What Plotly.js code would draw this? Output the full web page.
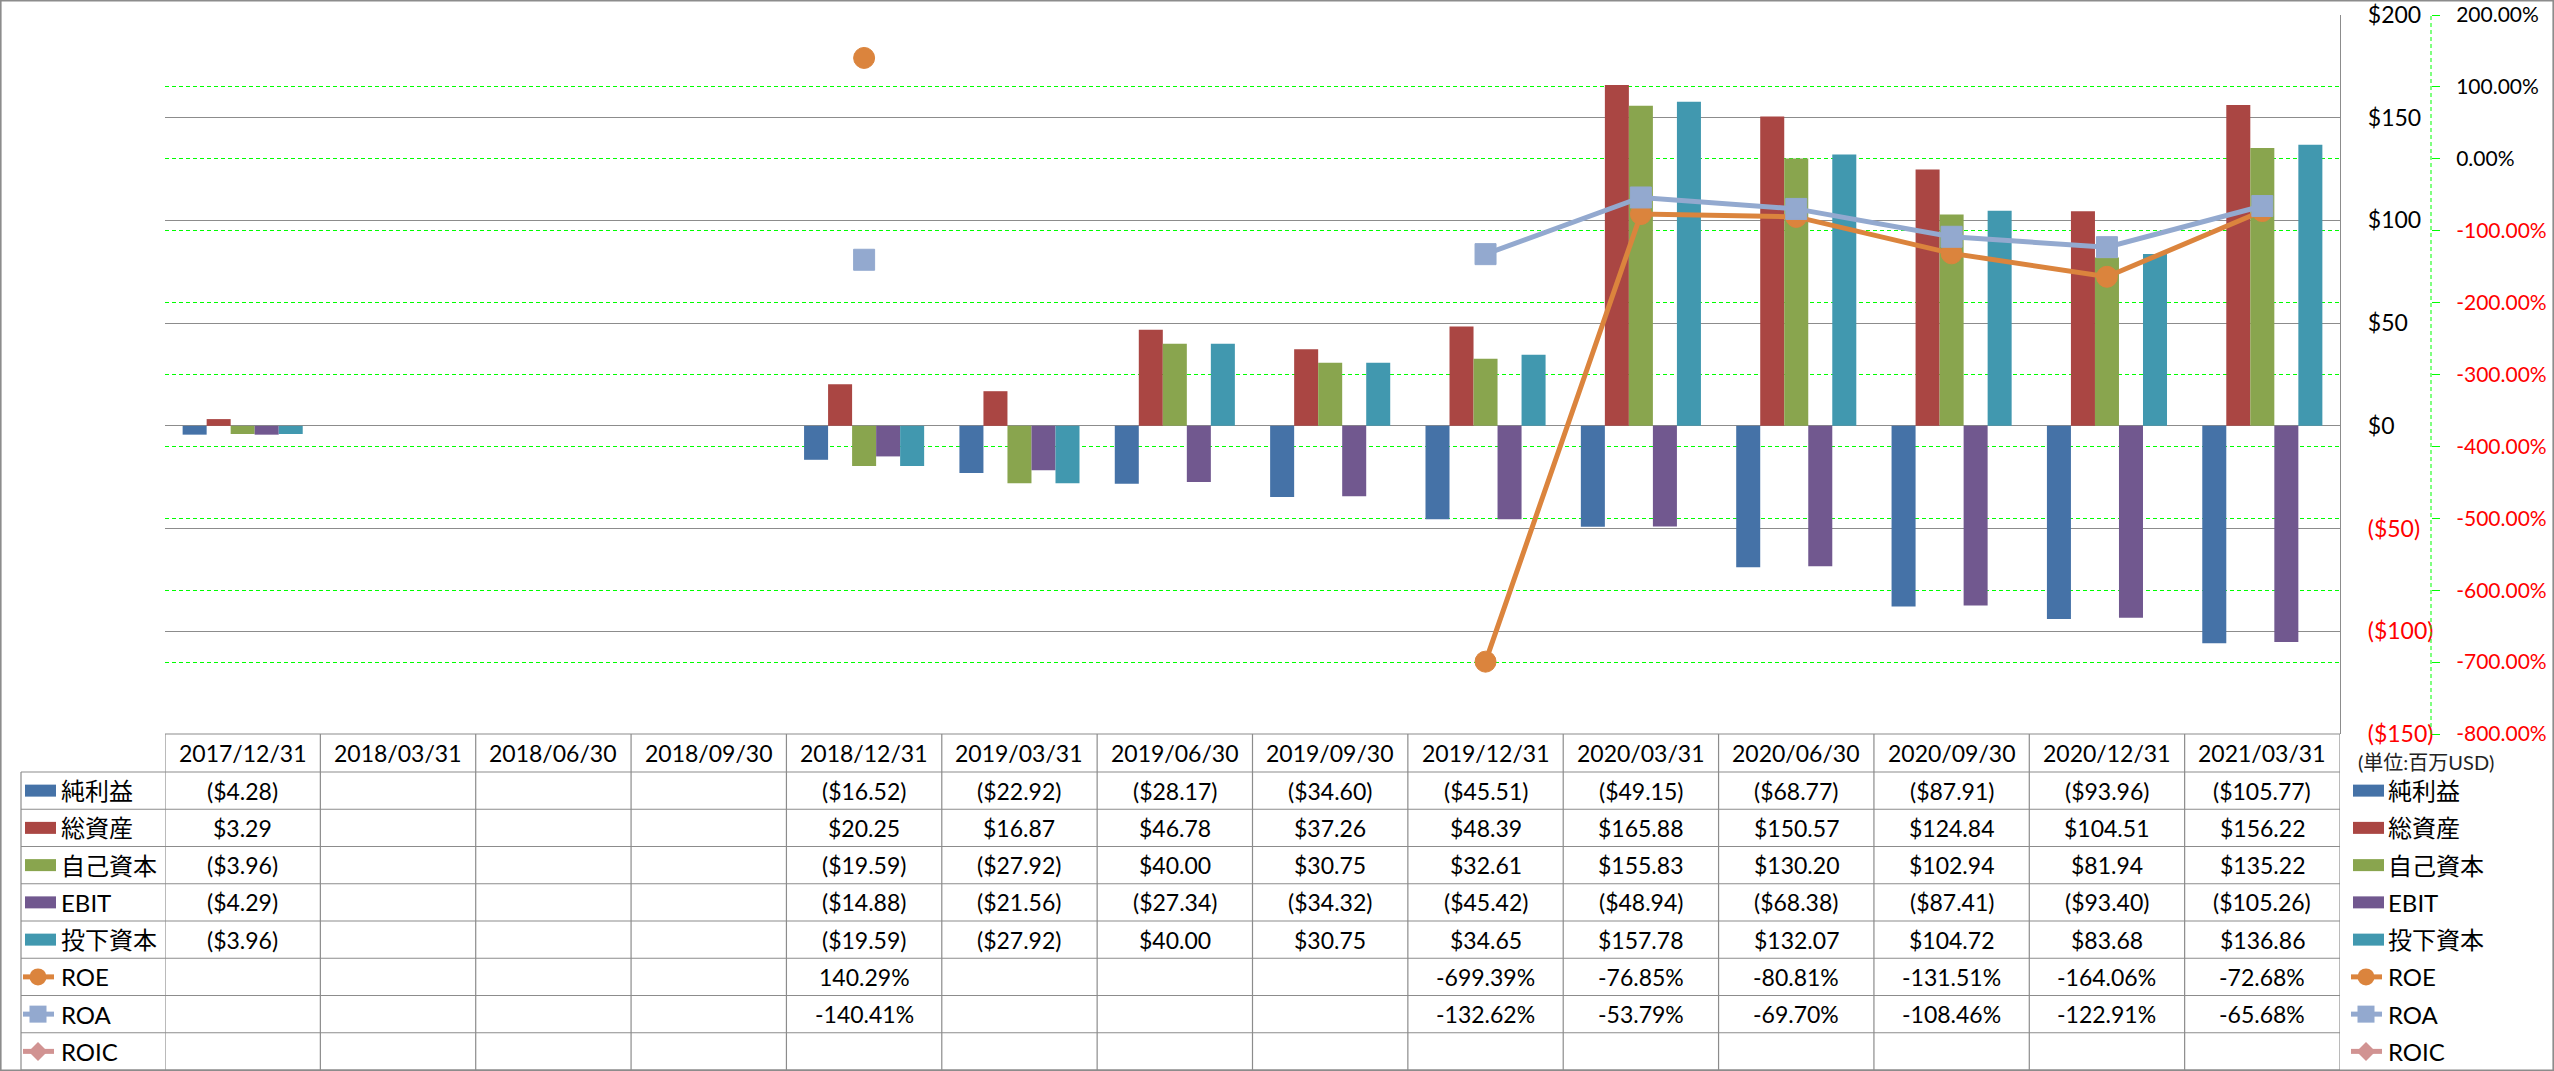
<!DOCTYPE html>
<html>
<head>
<meta charset="utf-8">
<script src="https://cdn.plot.ly/plotly-3.0.1.min.js"></script>
<style>
  html, body { margin: 0; padding: 0; background: #fff; }
  #chart { width: 2554px; height: 1071px; }
</style>
</head>
<body>
<div id="chart"></div>
<script>
// quarter ends (table header)
const dates = ['2017/12/31', '2018/03/31', '2018/06/30', '2018/09/30', '2018/12/31', '2019/03/31', '2019/06/30',
  '2019/09/30', '2019/12/31', '2020/03/31', '2020/06/30', '2020/09/30', '2020/12/31', '2021/03/31'];

// amounts in million USD
const netIncome = [-4.28, null, null, null, -16.52, -22.92, -28.17, -34.60, -45.51, -49.15, -68.77, -87.91, -93.96, -105.77];
const totalAssets = [3.29, null, null, null, 20.25, 16.87, 46.78, 37.26, 48.39, 165.88, 150.57, 124.84, 104.51, 156.22];
const equity = [-3.96, null, null, null, -19.59, -27.92, 40.00, 30.75, 32.61, 155.83, 130.20, 102.94, 81.94, 135.22];
const ebit = [-4.29, null, null, null, -14.88, -21.56, -27.34, -34.32, -45.42, -48.94, -68.38, -87.41, -93.40, -105.26];
const investedCapital = [-3.96, null, null, null, -19.59, -27.92, 40.00, 30.75, 34.65, 157.78, 132.07, 104.72, 83.68, 136.86];

// ratios in percent
const roe = [null, null, null, null, 140.29, null, null, null, -699.39, -76.85, -80.81, -131.51, -164.06, -72.68];
const roa = [null, null, null, null, -140.41, null, null, null, -132.62, -53.79, -69.70, -108.46, -122.91, -65.68];
const roic = [null, null, null, null, null, null, null, null, null, null, null, null, null, null];

const leftTicks = [200, 150, 100, 50, 0, -50, -100, -150];
const rightTicks = [200, 100, 0, -100, -200, -300, -400, -500, -600, -700, -800];

const W = 2554, H = 1071;
const px = x => x / W;
const py = y => 1 - y / H;

const RED = '#FF0000';
const GRID = '#8C8C8C';
const FONT = 'Lato, "Noto Sans CJK JP", sans-serif';

function money(v) {
  if (v === null) return '';
  return v < 0 ? '($' + Math.abs(v).toFixed(2) + ')' : '$' + v.toFixed(2);
}
function pct(v) {
  return v === null ? '' : v.toFixed(2) + '%';
}
function red(s, neg) {
  return neg ? '<span style="color:' + RED + '">' + s + '</span>' : s;
}

const series = [
  { name: '純利益', data: netIncome, color: '#4572A7', kind: 'bar' },
  { name: '総資産', data: totalAssets, color: '#AA4643', kind: 'bar' },
  { name: '自己資本', data: equity, color: '#89A54E', kind: 'bar' },
  { name: 'EBIT', data: ebit, color: '#71588F', kind: 'bar' },
  { name: '投下資本', data: investedCapital, color: '#4198AF', kind: 'bar' },
  { name: 'ROE', data: roe, color: '#DB843D', kind: 'line', symbol: 'circle' },
  { name: 'ROA', data: roa, color: '#93A9CF', kind: 'line', symbol: 'square' },
  { name: 'ROIC', data: roic, color: '#D19392', kind: 'line', symbol: 'diamond' },
];

const traces = series.map(s => {
  if (s.kind === 'bar') {
    return { type: 'bar', name: s.name, x: dates, y: s.data, marker: { color: s.color, line: { width: 0 } } };
  }
  return {
    type: 'scatter', mode: 'lines+markers', name: s.name, x: dates, y: s.data, yaxis: 'y2',
    connectgaps: false,
    line: { color: s.color, width: 5 },
    marker: { symbol: s.symbol, size: 21, color: s.color, line: { color: s.color, width: 1 } },
  };
});

// table geometry (pixels)
const tableTop = 734, headBottom = 772, rowH = 37.25, tableLeft = 21, tableRight = 2340;
const rowY = k => headBottom + rowH * (k + 0.5);

const shapes = [];
const annotations = [];

// outer frame
shapes.push({ type: 'rect', xref: 'paper', yref: 'paper', x0: px(0.8), x1: px(W - 0.8), y0: py(0.8), y1: py(H - 0.8),
  line: { color: '#8C8C8C', width: 1.6 } });

// secondary axis line (dashed)
shapes.push({ type: 'line', xref: 'paper', yref: 'y2', x0: px(2431), x1: px(2431), y0: -800, y1: 200,
  line: { color: '#00FF00', width: 1, dash: '4px,3px' } });

// table grid
shapes.push({ type: 'line', xref: 'paper', yref: 'paper', x0: px(165), x1: px(tableRight), y0: py(tableTop), y1: py(tableTop),
  line: { color: GRID, width: 1.2 } });
for (let k = 0; k <= series.length; k++) {
  const y = headBottom + rowH * k;
  shapes.push({ type: 'line', xref: 'paper', yref: 'paper', x0: px(tableLeft), x1: px(tableRight), y0: py(y), y1: py(y),
    line: { color: GRID, width: 1.2 } });
}
shapes.push({ type: 'line', xref: 'paper', yref: 'paper', x0: px(tableLeft), x1: px(tableLeft), y0: py(headBottom), y1: py(H),
  line: { color: GRID, width: 1.2 } });
for (let i = 0; i <= dates.length; i++) {
  shapes.push({ type: 'line', xref: 'x', yref: 'paper', x0: i - 0.5, x1: i - 0.5, y0: py(tableTop), y1: py(H),
    line: { color: GRID, width: 1.2 } });
}

// header and cells
dates.forEach(d => {
  annotations.push({ xref: 'x', yref: 'paper', x: d, y: py(753), text: d, showarrow: false,
    xanchor: 'center', yanchor: 'middle', font: { size: 23, color: '#000' } });
});
series.forEach((s, k) => {
  s.data.forEach((v, i) => {
    if (v === null) return;
    annotations.push({ xref: 'x', yref: 'paper', x: dates[i], y: py(rowY(k)), text: s.kind === 'bar' ? money(v) : pct(v),
      showarrow: false, xanchor: 'center', yanchor: 'middle', font: { size: 23, color: '#000' } });
  });
});

// legend keys (table column and right side)
function legendKey(s, k, a, textX) {
  const yc = rowY(k);
  if (s.kind === 'bar') {
    shapes.push({ type: 'rect', xref: 'paper', yref: 'paper', x0: px(a), x1: px(a + 31), y0: py(yc + 6), y1: py(yc - 6),
      fillcolor: s.color, line: { width: 0 } });
  } else {
    shapes.push({ type: 'line', xref: 'paper', yref: 'paper', x0: px(a - 2), x1: px(a + 29), y0: py(yc), y1: py(yc),
      line: { color: s.color, width: 5 } });
    const c = a + 13, r = 8.5;
    if (s.symbol === 'circle') {
      shapes.push({ type: 'circle', xref: 'paper', yref: 'paper', x0: px(c - r), x1: px(c + r), y0: py(yc + r), y1: py(yc - r),
        fillcolor: s.color, line: { width: 0 } });
    } else if (s.symbol === 'square') {
      shapes.push({ type: 'rect', xref: 'paper', yref: 'paper', x0: px(c - r), x1: px(c + r), y0: py(yc + r), y1: py(yc - r),
        fillcolor: s.color, line: { width: 0 } });
    } else {
      const p = 'M' + px(c) + ',' + py(yc - r - 1) + ' L' + px(c + r + 1) + ',' + py(yc) + ' L' + px(c) + ',' + py(yc + r + 1) +
        ' L' + px(c - r - 1) + ',' + py(yc) + ' Z';
      shapes.push({ type: 'path', xref: 'paper', yref: 'paper', path: p, fillcolor: s.color, line: { width: 0 } });
    }
  }
  annotations.push({ xref: 'paper', yref: 'paper', x: px(textX), y: py(yc), text: s.name, showarrow: false,
    xanchor: 'left', yanchor: 'middle', font: { size: 24, color: '#000' } });
}
series.forEach((s, k) => {
  legendKey(s, k, 25, 59);
  legendKey(s, k, 2353, 2386);
});

annotations.push({ xref: 'paper', yref: 'paper', x: px(2356), y: py(762), text: '(単位:百万USD)', showarrow: false,
  xanchor: 'left', yanchor: 'middle', font: { size: 20, color: '#222' } });

const layout = {
  width: W, height: H,
  margin: { l: 0, r: 0, t: 0, b: 0 },
  paper_bgcolor: '#fff', plot_bgcolor: '#fff',
  font: { family: FONT, color: '#000' },
  showlegend: false,
  barmode: 'group', bargap: 0.227, bargroupgap: 0,
  xaxis: {
    domain: [px(165), px(2340)], type: 'category', range: [-0.5, dates.length - 0.5],
    showticklabels: false, showgrid: false, zeroline: false, showline: false, ticks: '', fixedrange: true,
  },
  yaxis: {
    domain: [py(734), py(15)], range: [-150, 200], side: 'right',
    tickvals: leftTicks, ticktext: leftTicks.map(v => red(money(v).replace('.00', ''), v < 0)),
    showline: true, linecolor: GRID, linewidth: 1.2,
    showgrid: true, gridcolor: GRID, gridwidth: 1.2,
    zeroline: true, zerolinecolor: GRID, zerolinewidth: 1.2,
    ticks: '', ticklabelstandoff: 22, ticklabeloverflow: 'allow',
    tickfont: { size: 23, color: '#000' }, fixedrange: true,
  },
  yaxis2: {
    overlaying: 'y', anchor: 'free', position: px(2431), side: 'right', range: [-800, 200],
    tickvals: rightTicks, ticktext: rightTicks.map(v => red(v.toFixed(2) + '%', v < 0)),
    showgrid: true, gridcolor: '#00FF00', gridwidth: 1, griddash: '4px,3px',
    zeroline: false, showline: false,
    ticks: 'outside', ticklen: 8, tickcolor: '#00FF00', tickwidth: 1,
    ticklabelstandoff: 12, ticklabeloverflow: 'allow',
    tickfont: { size: 21, color: '#000' }, fixedrange: true,
  },
  shapes: shapes,
  annotations: annotations,
};

Plotly.newPlot('chart', traces, layout, { displayModeBar: false, staticPlot: true });
</script>
</body>
</html>
